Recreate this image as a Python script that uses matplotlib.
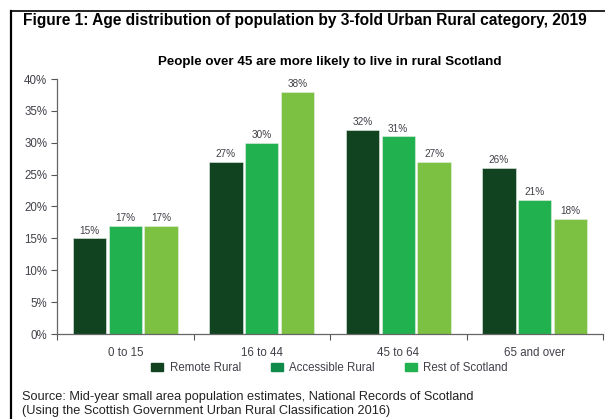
import numpy as np
import matplotlib.pyplot as plt
from matplotlib.patches import Patch
from matplotlib.lines import Line2D

plt.rcParams["font.family"] = ["Liberation Sans", "DejaVu Sans"]

age_groups = ["0 to 15", "16 to 44", "45 to 64", "65 and over"]
series = ["Remote Rural", "Accessible Rural", "Rest of Scotland"]
remote_rural = [15, 27, 32, 26]
accessible_rural = [17, 30, 31, 21]
rest_of_scotland = [17, 38, 27, 18]

bar_colors = ["#114321", "#22b14f", "#7cc142"]
legend_colors = ["#114321", "#0e8a4a", "#22b14f"]
text_grey = "#404048"

fig = plt.figure(figsize=(6.05, 4.19), dpi=100)
ax = fig.add_axes([57/605, 1 - 334/419, 546/605, 255/419])

x = np.arange(len(age_groups))
w = 0.243
slot = 0.262
for i, vals in enumerate([remote_rural, accessible_rural, rest_of_scotland]):
    pos = x + (i - 1) * slot
    bars = ax.bar(pos, vals, width=w, color=bar_colors[i],
                  edgecolor="#e8efe8", linewidth=0.4)
    for b, v in zip(bars, vals):
        ax.text(b.get_x() + b.get_width()/2, v + 0.45, f"{v}%",
                ha="center", va="bottom", fontsize=7.2, color=text_grey)

ax.set_xlim(-0.5, len(age_groups) - 0.5)
ax.set_ylim(0, 40)
ax.set_yticks(range(0, 41, 5))
ax.set_yticklabels([f"{t}%" for t in range(0, 41, 5)])
ax.set_xticks(np.arange(len(age_groups) + 1) - 0.5)
ax.set_xticklabels([])
ax.set_xticks(x, minor=True)
ax.set_xticklabels(age_groups, minor=True)
ax.tick_params(axis="x", which="minor", length=0, pad=9,
               labelsize=8.3, labelcolor=text_grey)
ax.tick_params(axis="x", which="major", length=4, color="#555555")
ax.tick_params(axis="y", length=4, color="#555555", labelsize=8.3,
               labelcolor=text_grey, pad=3)
for s in ["top", "right"]:
    ax.spines[s].set_visible(False)
for s in ["left", "bottom"]:
    ax.spines[s].set_color("#666666")
    ax.spines[s].set_linewidth(0.9)

handles = [Patch(color=c) for c in legend_colors]
fig.legend(handles, series, loc="center", bbox_to_anchor=(0.545, 1 - 368/419),
           ncol=3, frameon=False, fontsize=8.3, handlelength=1.0,
           handleheight=0.8, columnspacing=2.6, handletextpad=0.6,
           labelcolor=text_grey)

fig.text(23/605, 1 - 20/419,
         "Figure 1: Age distribution of population by 3-fold Urban Rural category, 2019",
         fontsize=11.2, fontweight="bold", va="center", ha="left")
fig.text(330/605, 1 - 62/419,
         "People over 45 are more likely to live in rural Scotland",
         fontsize=9.6, fontweight="bold", va="center", ha="center")
fig.text(22/605, 1 - 397/419,
         "Source: Mid-year small area population estimates, National Records of Scotland",
         fontsize=9.2, va="center", ha="left", color="#222222")
fig.text(22/605, 1 - 411/419,
         "(Using the Scottish Government Urban Rural Classification 2016)",
         fontsize=9.2, va="center", ha="left", color="#222222")

# frame lines round the figure
fig.add_artist(Line2D([11/605, 1], [1 - 11/419, 1 - 11/419], color="black", lw=1.2))
fig.add_artist(Line2D([11/605, 11/605], [0, 1 - 11/419], color="black", lw=1.6))

fig.savefig("out.png", dpi=100)
